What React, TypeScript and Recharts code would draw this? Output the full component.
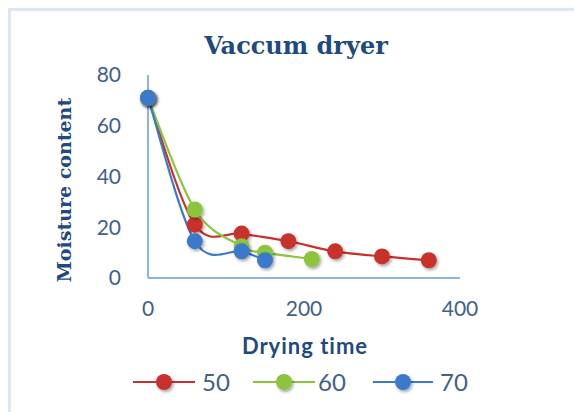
import { LineChart, Line, XAxis, YAxis } from 'recharts';

// Moisture content vs drying time at three dryer temperatures
const dryingTime50 = [0, 60, 120, 180, 240, 300, 360];
const moisture50 = [71, 21, 17.5, 14.5, 10.5, 8.5, 7];
const dryingTime60 = [0, 60, 120, 150, 210];
const moisture60 = [71, 27, 12.5, 10, 7.5];
const dryingTime70 = [0, 60, 120, 150];
const moisture70 = [71, 14.5, 10.5, 7];

const xTicks = [0, 200, 400];
const yTicks = [0, 20, 40, 60, 80];

const seriesNames = ['50', '60', '70'];
const lineColors = ['#c9302c', '#8cc43e', '#3a79cc'];

const toPoints = (xs: number[], ys: number[]) => xs.map((x, i) => ({ x, y: ys[i] }));
const series = [
  toPoints(dryingTime50, moisture50),
  toPoints(dryingTime60, moisture60),
  toPoints(dryingTime70, moisture70),
];

// Excel-style smoothed line (Catmull-Rom through every point)
const smoothCurve = (context: any) => {
  let pts: number[][] = [];
  return {
    areaStart() {},
    areaEnd() {},
    lineStart() { pts = []; },
    point(x: number, y: number) { pts.push([+x, +y]); },
    lineEnd() {
      if (!pts.length) return;
      context.moveTo(pts[0][0], pts[0][1]);
      for (let i = 0; i < pts.length - 1; i++) {
        const p0 = pts[Math.max(i - 1, 0)];
        const p1 = pts[i];
        const p2 = pts[i + 1];
        const p3 = pts[Math.min(i + 2, pts.length - 1)];
        context.bezierCurveTo(
          p1[0] + (p2[0] - p0[0]) / 6, p1[1] + (p2[1] - p0[1]) / 6,
          p2[0] - (p3[0] - p1[0]) / 6, p2[1] - (p3[1] - p1[1]) / 6,
          p2[0], p2[1],
        );
      }
    },
  };
};

const makeDot = (color: string) => (props: any) => {
  const { cx, cy, index } = props;
  return <circle key={index} cx={cx} cy={cy} r={8} fill={color} filter="url(#markerShadow)" />;
};

const axisColor = '#8db3e2';
const tickStyle = { fill: '#41608a', fontSize: 21, fontFamily: 'Lato' };

export default function App() {
  return (
    <div style={{ position: 'absolute', left: 0, top: 0, width: 574, height: 412, overflow: 'hidden', background: '#fff' }}>
      <div style={{ position: 'absolute', left: 8, top: 8, width: 620, height: 460, borderTop: '3px solid #dce6f4', borderLeft: '3px solid #dce6f4' }} />
      <LineChart width={574} height={412} margin={{ top: 75, right: 114, bottom: 104, left: 88 }}>
        <XAxis
          type="number"
          dataKey="x"
          domain={[0, 400]}
          ticks={xTicks}
          tickSize={0}
          tickMargin={23}
          tick={tickStyle}
          axisLine={{ stroke: axisColor, strokeWidth: 2 }}
        />
        <YAxis
          type="number"
          dataKey="y"
          domain={[0, 80]}
          ticks={yTicks}
          tickSize={0}
          tickMargin={27}
          tick={tickStyle}
          axisLine={{ stroke: axisColor, strokeWidth: 2 }}
        />
        {series.map((data, i) => (
          <Line
            key={seriesNames[i]}
            data={data}
            dataKey="y"
            name={seriesNames[i]}
            type={smoothCurve as any}
            stroke={lineColors[i]}
            strokeWidth={2.2}
            dot={makeDot(lineColors[i])}
            activeDot={false}
            isAnimationActive={false}
          />
        ))}
      </LineChart>
      <svg width={574} height={412} style={{ position: 'absolute', left: 0, top: 0, pointerEvents: 'none' }}>
        <defs>
          <filter id="markerShadow" x="-50%" y="-50%" width="200%" height="200%">
            <feDropShadow dx="1.5" dy="2" stdDeviation="1.5" floodColor="#000" floodOpacity="0.35" />
          </filter>
        </defs>
        <text x={296} y={54} textAnchor="middle" fontFamily="DejaVu Serif" fontWeight="bold" fontSize={24} fill="#1f4a7d">
          Vaccum dryer
        </text>
        <text
          x={0}
          y={0}
          transform="translate(71,190) rotate(-90)"
          textAnchor="middle"
          fontFamily="DejaVu Serif"
          fontWeight="bold"
          fontSize={19}
          fill="#1f4a7d"
        >
          Moisture content
        </text>
        <text x={305} y={354} textAnchor="middle" fontFamily="Lato" fontWeight="bold" fontSize={22} letterSpacing={1} fill="#1f4a7d">
          Drying time
        </text>
        {/* legend */}
        {[
          { x1: 133, x2: 195, tx: 202 },
          { x1: 253, x2: 315, tx: 318 },
          { x1: 373, x2: 433, tx: 440 },
        ].map((item, i) => (
          <g key={seriesNames[i]}>
            <line x1={item.x1} x2={item.x2} y1={382} y2={382} stroke={lineColors[i]} strokeWidth={2.2} />
            <circle cx={(item.x1 + item.x2) / 2} cy={382} r={8} fill={lineColors[i]} filter="url(#markerShadow)" />
            <text x={item.tx} y={391} fontFamily="Lato" fontSize={24} fill="#41608a">
              {seriesNames[i]}
            </text>
          </g>
        ))}
      </svg>
    </div>
  );
}
